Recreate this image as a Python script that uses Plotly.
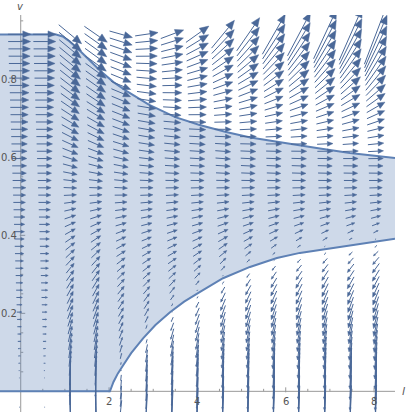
import numpy as np
import plotly.graph_objects as go

# grid of the vector field: 15 columns in l, 52 rows in v
col_l = [-0.03, 0.54, 1.12, 1.70, 2.27, 2.85, 3.43, 4.00, 4.58, 5.15, 5.73, 6.30, 6.89, 7.47, 8.04]
row_v0, row_dv, n_rows = -0.0406, 0.01875, 52

# per column: how fast they tilt, where they turn level again above 0.5,
# and how strong the vertical push near v = 0 is
col_gain = [0.0, 0.0, 5.7, 6.4, 6.0, 6.0, 6.5, 8.6, 12.8, 13.8, 15.7, 16.4, 18.0, 18.4, 20.5]
col_zero = [1.0, 1.0, 1.27, 1.18, 1.03, 0.86, 0.78, 0.72, 0.69, 0.665, 0.65, 0.64, 0.63, 0.62, 0.61]
col_kick = [0, 0, 40, 40, 12, 30, 40, 45, 45, 45, 45, 45, 45, 45, 45]

# boundary of the shaded region
upper_l = [-0.47, 0.80, 0.95, 1.10, 1.30, 1.55, 1.80, 2.10, 2.40, 2.90, 3.50, 4.05, 4.65, 5.20, 5.95, 6.70, 7.45, 8.474]
upper_v = [0.915, 0.915, 0.910, 0.898, 0.878, 0.850, 0.822, 0.793, 0.770, 0.735, 0.703, 0.683, 0.665, 0.651, 0.637, 0.624, 0.611, 0.598]
lower_l = [-0.47, 2.02, 2.10, 2.20, 2.32, 2.50, 2.77, 3.05, 3.38, 3.70, 4.06, 4.58, 5.19, 5.80, 6.32, 7.07, 7.84, 8.474]
lower_v = [0.0, 0.0, 0.024, 0.046, 0.067, 0.098, 0.136, 0.170, 0.203, 0.230, 0.255, 0.290, 0.319, 0.342, 0.355, 0.368, 0.381, 0.391]

x_major = [2, 4, 6, 8]
x_labels = ["2", "4", "6", "8"]
x_minor = [0.5, 1, 1.5, 2.5, 3, 3.5, 4.5, 5, 5.5, 6.5, 7, 7.5]
y_major = [0.2, 0.4, 0.6, 0.8]
y_labels = ["0.2", "0.4", "0.6", "0.8"]
y_minor = [0.05, 0.1, 0.15, 0.25, 0.3, 0.35, 0.45, 0.5, 0.55, 0.65, 0.7, 0.75, 0.85, 0.9, 0.95]

W, H = 407, 412
M_L, M_R, M_T, M_B = 0, 12, 15, 0
X_RANGE = [-0.469, 8.474]
Y_RANGE = [-0.053, 0.965]
px_x = (W - M_L - M_R) / (X_RANGE[1] - X_RANGE[0])
px_y = (H - M_T - M_B) / (Y_RANGE[1] - Y_RANGE[0])

ARROW = '#4a6898'
EDGE = '#5e81b5'
AXIS = '#999999'
TXT = '#555555'


def arrow_px(ci, v):
    """arrow in screen pixels (right, up) at column ci, row v; also the length without the kick"""
    g, z, k = col_gain[ci], col_zero[ci], col_kick[ci]
    lo = float(np.interp(col_l[ci], lower_l, lower_v))
    sig = 0.05
    if lo > 0:
        t = np.tanh((v - lo) / sig)
        ratio, sgn, damp = t / np.tanh(v / sig), np.sign(v - lo), abs(t)
    else:
        ratio, sgn, damp = 1.0, 1.0, 1.0
    u = 25 * v * ratio
    w0 = u * g * (v - 0.5) * (v - z)
    w = w0 + sgn * k * damp / (1 + (v / 0.07) ** 2)
    return u, w, np.hypot(u, w0)


shaft_x, shaft_y, head_x, head_y = [], [], [], []
for ci, l in enumerate(col_l):
    for r in range(n_rows):
        v = row_v0 + r * row_dv
        u, w, base_len = arrow_px(ci, v)
        ln = np.hypot(u, w)
        if ln < 0.8:
            continue
        dx, dy = u / ln, w / ln
        hl = min(0.35 * base_len, 9.0, 0.45 * ln)
        hw = 0.42 * hl
        tx, ty = -u / 2, -w / 2
        px_, py_ = u / 2, w / 2
        bx, by = px_ - hl * dx, py_ - hl * dy
        shaft_x += [l + tx / px_x, l + bx / px_x, None]
        shaft_y += [v + ty / px_y, v + by / px_y, None]
        if hl > 0.6:
            head_x += [l + px_ / px_x, l + (bx - hw * dy) / px_x, l + (bx + hw * dy) / px_x, l + px_ / px_x, None]
            head_y += [v + py_ / px_y, v + (by + hw * dx) / px_y, v + (by - hw * dx) / px_y, v + py_ / px_y, None]

fig = go.Figure()

# axes and ticks (Mathematica style, crossing at the origin)
ax_x, ax_y = [X_RANGE[0], X_RANGE[1], None, 0, 0, None], [0, 0, None, Y_RANGE[0], Y_RANGE[1], None]
for t in x_major:
    ax_x += [t, t, None]
    ax_y += [-1 / px_y, 4 / px_y, None]
for t in x_minor:
    ax_x += [t, t, None]
    ax_y += [0, 2.5 / px_y, None]
for t in y_major:
    ax_x += [-1 / px_x, 4.5 / px_x, None]
    ax_y += [t, t, None]
for t in y_minor:
    ax_x += [0, 2.5 / px_x, None]
    ax_y += [t, t, None]
fig.add_trace(go.Scatter(x=ax_x, y=ax_y, mode='lines', line=dict(color=AXIS, width=1),
                         hoverinfo='skip', showlegend=False))

# shaded region
reg_x = lower_l + upper_l[::-1] + [lower_l[0]]
reg_y = lower_v + upper_v[::-1] + [lower_v[0]]
fig.add_trace(go.Scatter(x=reg_x, y=reg_y, mode='lines', fill='toself',
                         fillcolor='rgba(94,129,181,0.3)', line=dict(width=0),
                         hoverinfo='skip', showlegend=False))
fig.add_trace(go.Scatter(x=lower_l + [None] + upper_l, y=lower_v + [None] + upper_v, mode='lines',
                         line=dict(color=EDGE, width=2), hoverinfo='skip', showlegend=False))

# vector field
fig.add_trace(go.Scatter(x=shaft_x, y=shaft_y, mode='lines', line=dict(color=ARROW, width=1),
                         hoverinfo='skip', showlegend=False))
fig.add_trace(go.Scatter(x=head_x, y=head_y, mode='lines', fill='toself', fillcolor=ARROW,
                         line=dict(color=ARROW, width=0.5), hoverinfo='skip', showlegend=False))

tick_font = dict(family='DejaVu Sans, sans-serif', size=10, color=TXT)
ann = []
for t, s in zip(x_major, x_labels):
    ann.append(dict(x=t, y=0, text=s, showarrow=False, xanchor='center', yanchor='middle', yshift=-10,
                    font=tick_font))
for t, s in zip(y_major, y_labels):
    ann.append(dict(x=0, y=t, text=s, showarrow=False, xanchor='right', yanchor='middle', xshift=-2,
                    font=tick_font))
ann.append(dict(x=0, y=Y_RANGE[1], text='<i>v</i>', showarrow=False, xanchor='center', yanchor='bottom',
                yshift=1, font=dict(family='DejaVu Sans, sans-serif', size=10, color=TXT)))
ann.append(dict(x=X_RANGE[1], y=0, text='<i>l</i>', showarrow=False, xanchor='left', yanchor='middle',
                xshift=5, font=dict(family='DejaVu Sans, sans-serif', size=11, color=TXT)))

fig.update_layout(
    width=W, height=H,
    margin=dict(l=M_L, r=M_R, t=M_T, b=M_B),
    paper_bgcolor='white', plot_bgcolor='white',
    xaxis=dict(range=X_RANGE, visible=False),
    yaxis=dict(range=Y_RANGE, visible=False),
    annotations=ann,
    showlegend=False,
)

# page margin off so the figure sits at the window corner
fig.write_html("out.html", config={'displayModeBar': False},
               post_script="document.body.style.margin='0';document.body.style.overflow='hidden';")
